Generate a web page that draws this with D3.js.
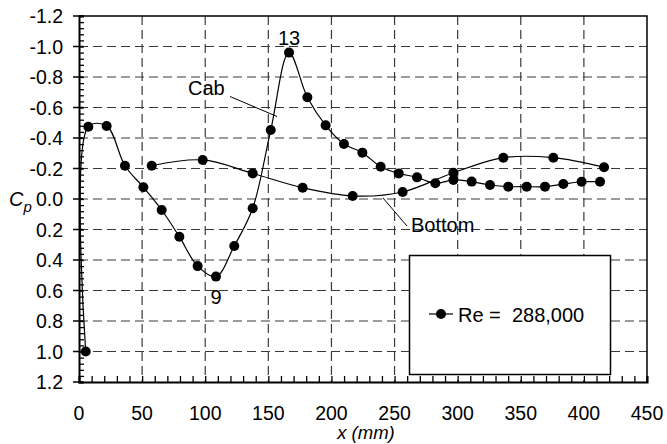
<!DOCTYPE html>
<html>
<head>
<meta charset="utf-8">
<script src="https://cdn.jsdelivr.net/npm/d3@7"></script>
<style>
  body { margin: 0; background: #fff; }
  svg { display: block; font-family: "Liberation Sans", Arial, sans-serif; }
</style>
</head>
<body>
<div class="chart"></div>
<script>
// cab (upper surface) taps, x in mm
const cabX = [5.3, 7.4, 21.9, 36.4, 51, 65.5, 79.5, 94, 108.5, 123, 137.6, 151.9, 166.4, 180.9,
    195.4, 209.9, 224.5, 239, 253.3, 267.8, 282.3, 296.6, 311.1, 325.6, 340.1, 354.7, 369.2,
    383.7, 398.2, 412.8];
const cabCp = [1.0, -0.474, -0.479, -0.218, -0.077, 0.072, 0.247, 0.44, 0.509, 0.308, 0.061,
    -0.452, -0.96, -0.667, -0.483, -0.361, -0.304, -0.212, -0.168, -0.142, -0.103, -0.125,
    -0.114, -0.092, -0.081, -0.081, -0.081, -0.098, -0.113, -0.113];
// bottom surface taps
const bottomX = [57.6, 98, 137.6, 177.2, 216.8, 256.4, 296.6, 336.2, 375.8, 416];
const bottomCp = [-0.218, -0.256, -0.168, -0.074, -0.02, -0.046, -0.172, -0.271, -0.271, -0.208];

const xTicks = [0, 50, 100, 150, 200, 250, 300, 350, 400, 450];
const yTicks = [-1.2, -1.0, -0.8, -0.6, -0.4, -0.2, 0.0, 0.2, 0.4, 0.6, 0.8, 1.0, 1.2];
const legendLabel = "Re =  288,000";

const width = 667, height = 444;
const margin = {top: 16, right: 20, bottom: 62, left: 79};

const svg = d3.select(".chart")
    .append("svg")
    .attr("width", width)
    .attr("height", height)
    .attr("viewBox", [0, 0, width, height]);

const xScale = d3.scaleLinear()
    .domain([0, 450])
    .range([margin.left, width - margin.right]);
const yScale = d3.scaleLinear()
    .domain([-1.2, 1.2])
    .range([margin.top, height - margin.bottom]);

const fmt = v => d3.format(".1f")(v).replace("\u2212", "-");

// grid
svg.append("g")
    .attr("stroke", "#3a3a3a")
    .attr("stroke-width", 1.2)
    .attr("stroke-dasharray", "9,5")
  .selectAll("line")
  .data(yTicks.slice(1, -1))
  .join("line")
    .attr("x1", xScale(0))
    .attr("x2", xScale(450))
    .attr("y1", d => yScale(d))
    .attr("y2", d => yScale(d));
svg.append("g")
    .attr("stroke", "#3a3a3a")
    .attr("stroke-width", 1.2)
    .attr("stroke-dasharray", "9,5")
  .selectAll("line")
  .data(xTicks.slice(1, -1))
  .join("line")
    .attr("x1", d => xScale(d))
    .attr("x2", d => xScale(d))
    .attr("y1", yScale(-1.2))
    .attr("y2", yScale(1.2));

// curves
const line = d3.line()
    .curve(d3.curveCatmullRom)
    .x(d => xScale(d[0]))
    .y(d => yScale(d[1]));
const cab = cabX.map((x, i) => [x, cabCp[i]]);
const bottom = bottomX.map((x, i) => [x, bottomCp[i]]);

[cab, bottom].forEach(series => {
    svg.append("path")
        .datum(series)
        .attr("fill", "none")
        .attr("stroke", "black")
        .attr("stroke-width", 1.2)
        .attr("d", line);
    svg.append("g")
      .selectAll("circle")
      .data(series)
      .join("circle")
        .attr("cx", d => xScale(d[0]))
        .attr("cy", d => yScale(d[1]))
        .attr("r", 5)
        .attr("fill", "black");
});

// annotations
svg.append("text").attr("x", xScale(cabX[12])).attr("y", yScale(cabCp[12]) - 8)
    .attr("text-anchor", "middle").attr("font-size", 20).text("13");
svg.append("text").attr("x", xScale(cabX[8])).attr("y", yScale(cabCp[8]) + 27)
    .attr("text-anchor", "middle").attr("font-size", 20).text("9");
svg.append("text").attr("x", 188).attr("y", 95).attr("font-size", 20).text("Cab");
svg.append("line").attr("x1", 230).attr("y1", 96.5).attr("x2", 277).attr("y2", 116.5)
    .attr("stroke", "black").attr("stroke-width", 1);
svg.append("text").attr("x", 411).attr("y", 232).attr("font-size", 20).text("Bottom");
svg.append("line").attr("x1", 383).attr("y1", 198).attr("x2", 407).attr("y2", 226)
    .attr("stroke", "black").attr("stroke-width", 1);

// legend
const legend = svg.append("g");
legend.append("rect")
    .attr("x", 409.5).attr("y", 255.5).attr("width", 201).attr("height", 119)
    .attr("fill", "white").attr("stroke", "black").attr("stroke-width", 1.5);
legend.append("line").attr("x1", 429).attr("x2", 453).attr("y1", 314).attr("y2", 314)
    .attr("stroke", "black").attr("stroke-width", 1.2);
legend.append("circle").attr("cx", 441).attr("cy", 314).attr("r", 5).attr("fill", "black");
legend.append("text").attr("x", 458).attr("y", 321.5).attr("font-size", 20)
    .style("white-space", "pre").text(legendLabel);

// frame: top and right
svg.append("path")
    .attr("d", `M${xScale(0)},${yScale(-1.2)}H${xScale(450)}V${yScale(1.2)}`)
    .attr("fill", "none").attr("stroke", "black").attr("stroke-width", 1.5);

// axes
const xAxis = g => g
    .attr("transform", `translate(0,${yScale(1.2)})`)
    .call(d3.axisBottom(xScale).tickValues(d3.range(0, 451, 10)).tickSize(-6).tickFormat(""))
    .call(g => g.select(".domain").attr("stroke-width", 2))
    .call(g => g.selectAll(".tick line").attr("stroke-width", 1.3))
    .call(g => g.selectAll(".tl")
        .data(xTicks)
        .join("text")
        .attr("class", "tl")
        .attr("x", d => xScale(d))
        .attr("y", 37.5)
        .attr("text-anchor", "middle")
        .attr("fill", "black")
        .attr("font-size", 19.5)
        .text(d => d));
const yAxis = g => g
    .attr("transform", `translate(${xScale(0)},0)`)
    .call(d3.axisLeft(yScale).tickValues(d3.range(-30, 31, 1).map(v => v * 0.04)).tickSize(-5).tickFormat(""))
    .call(g => g.select(".domain").attr("stroke-width", 2))
    .call(g => g.selectAll(".tick line").attr("stroke-width", 1.3))
    .call(g => g.selectAll(".maj")
        .data(yTicks)
        .join("line")
        .attr("class", "maj")
        .attr("x1", -6).attr("x2", 4)
        .attr("y1", d => yScale(d)).attr("y2", d => yScale(d))
        .attr("stroke", "black").attr("stroke-width", 1.5))
    .call(g => g.selectAll(".tl")
        .data(yTicks)
        .join("text")
        .attr("class", "tl")
        .attr("x", -16)
        .attr("y", d => yScale(d))
        .attr("dy", "0.36em")
        .attr("text-anchor", "end")
        .attr("fill", "black")
        .attr("font-size", 19.5)
        .text(fmt));

svg.append("g").call(xAxis);
svg.append("g").call(yAxis);

// axis titles
const yt = svg.append("text").attr("x", 9).attr("y", 206).attr("font-size", 20)
    .attr("font-style", "italic");
yt.append("tspan").text("C");
yt.append("tspan").attr("font-size", 15).attr("dy", 6).text("p");

svg.append("text")
    .attr("x", (xScale(0) + xScale(450)) / 2 + 3)
    .attr("y", 439)
    .attr("text-anchor", "middle")
    .attr("font-size", 18.5)
    .attr("font-style", "italic")
    .text("x (mm)");
</script>
</body>
</html>
